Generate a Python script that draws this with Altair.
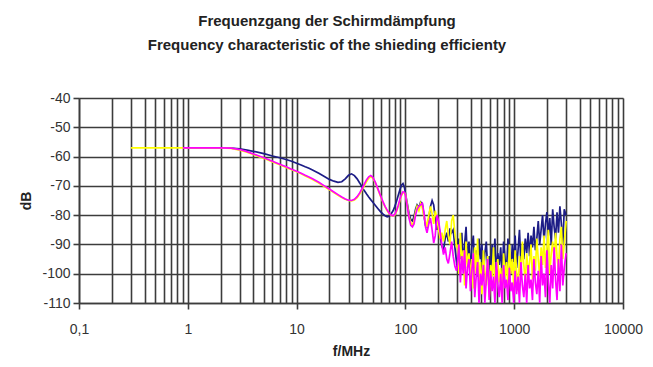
import altair as alt
import pandas as pd

# ---------------- data ----------------
freq_low = [0.3, 0.4, 0.5, 0.6, 0.7, 0.8, 0.9, 1.0, 1.2, 1.5,
            2.0, 2.5, 3.0, 3.5, 4.0, 5.0, 6.0, 7.0, 8.0, 9.0,
            10, 11, 12, 13, 14, 16, 18, 20, 22, 24,
            26, 28, 30, 32, 34, 36, 38, 40, 42, 44,
            46, 48, 50, 53, 56, 59, 62, 65, 68, 71,
            74, 77, 80, 83, 86, 89, 92, 95, 98]
freq_mid = [100, 104, 108, 112, 116, 120, 124, 128, 133, 138,
            143, 148, 153, 158, 164, 170, 176, 182, 188, 195,
            202, 209, 216, 224, 232, 240, 248, 257, 266, 275,
            285, 295]
freq_high = [300, 310, 320, 330, 340, 350, 361, 372, 384, 396,
             408, 421, 434, 447, 461, 475, 490, 505, 521, 537,
             554, 571, 589, 607, 626, 645, 665, 686, 707, 729,
             752, 775, 799, 824, 850, 876, 903, 931, 960, 990,
             1020, 1052, 1085, 1118, 1153, 1189, 1226, 1264, 1303, 1343,
             1385, 1428, 1472, 1518, 1565, 1614, 1664, 1715, 1768, 1823,
             1880, 1938, 1998, 2060, 2124, 2190, 2258, 2328, 2400, 2475,
             2552, 2631, 2713, 2797, 2884, 3000]

blue_low = [None, None, None, None, None, None, -57, -57, -57, -57,
            -57, -57.1, -57.4, -57.8, -58.2, -59.0, -59.8, -60.4, -61.0, -61.6,
            -62.3, -62.9, -63.5, -64.0, -64.6, -65.7, -66.8, -67.8, -68.4, -68.8,
            -68.6, -67.6, -66.4, -65.9, -66.5, -67.6, -69.0, -70.4, -71.7, -72.8,
            -73.8, -74.7, -75.5, -76.7, -77.8, -78.8, -79.6, -80.2, -80.6, -80.4,
            -79.5, -78.5, -77.0, -75.2, -73.2, -71.3, -69.8, -69.2, -70.5]
blue_mid = [-72.5, -76, -79.5, -81.5, -82, -80.5, -78, -76.5, -77.5, -75.5,
            -76, -80, -83.5, -84, -81, -77, -75, -76.5, -81, -85,
            -83, -87.5, -90.5, -92, -88, -86, -89, -84.5, -86, -85,
            -91, -96]
blue_high = [-99, -88, -95, -86, -97, -90, -84, -96, -89, -100,
             -91, -87, -98, -92, -101, -88, -95, -90, -102, -93,
             -89, -99, -94, -103, -90, -96, -88, -100, -93, -97,
             -91, -101, -89, -95, -99, -88, -94, -100, -90, -96,
             -87, -98, -92, -85, -97, -90, -95, -88, -93, -86,
             -94, -87, -91, -84, -92, -88, -82, -90, -85, -80,
             -89, -83, -79, -87, -81, -90, -78, -84, -88, -79,
             -86, -77, -83, -90, -78, -80]

yellow_low = [-57, -57, -57, -57, -57, -57, -57, -57, -57, -57,
              -57, -57.2, -57.8, -58.5, -59.3, -60.6, -61.8, -62.8, -63.7, -64.5,
              -65.2, -65.9, -66.6, -67.2, -67.8, -69.0, -70.2, -71.3, -72.3, -73.2,
              -74.0, -74.6, -75.0, -75.1, -74.8, -74.0, -72.8, -71.4, -69.9, -68.5,
              -67.4, -66.9, -67.3, -69.0, -71.3, -73.5, -75.5, -77.2, -78.5, -79.5,
              -80.1, -80.3, -79.9, -78.7, -77.0, -75.0, -73.3, -72.3, -72.4]
yellow_mid = [-72.8, -76.5, -80.5, -82.5, -83.5, -82, -79, -77, -78.5, -76,
              -77.5, -80.5, -82, -84, -80, -77, -79.5, -83, -78.5, -81,
              -85, -88, -86, -89, -85, -82, -87, -90, -82, -80,
              -86, -91]
yellow_high = [-90, -100, -86, -97, -92, -104, -89, -98, -93, -102,
               -95, -105, -91, -100, -88, -103, -96, -107, -92, -99,
               -104, -94, -108, -97, -101, -91, -106, -99, -95, -103,
               -98, -107, -93, -101, -96, -105, -90, -100, -95, -104,
               -92, -99, -106, -94, -101, -89, -97, -103, -93, -100,
               -96, -90, -102, -94, -99, -88, -95, -101, -91, -97,
               -87, -98, -92, -85, -100, -93, -89, -96, -86, -94,
               -99, -88, -84, -95, -90, -82]

magenta_low = [None, None, None, None, None, None, -57, -57, -57, -57,
               -57, -57.1, -57.6, -58.3, -59.1, -60.4, -61.6, -62.6, -63.5, -64.3,
               -65.0, -65.7, -66.4, -67.0, -67.6, -68.8, -70.0, -71.1, -72.1, -73.0,
               -73.8, -74.5, -74.9, -75.0, -74.6, -73.7, -72.4, -70.9, -69.3, -67.9,
               -66.9, -66.5, -67.0, -68.8, -71.1, -73.3, -75.3, -77.0, -78.3, -79.3,
               -80.0, -80.2, -79.7, -78.4, -76.6, -74.6, -73.0, -72.0, -72.2]
magenta_mid = [-73, -77, -81, -83.5, -84, -83, -80, -78, -77, -76.5,
               -76, -79, -84, -86, -83, -81, -85, -89.5, -87, -80,
               -82, -86, -90, -93.5, -91, -95, -96.5, -93, -89, -94,
               -97.5, -99]
magenta_high = [-97, -90, -103, -94, -100, -92, -105, -98, -95, -106,
                -99, -93, -108, -101, -96, -110, -100, -104, -97, -110,
                -102, -95, -109, -99, -106, -101, -110, -96, -104, -108,
                -100, -110, -97, -105, -102, -109, -98, -106, -103, -110,
                -99, -107, -101, -110, -96, -104, -108, -100, -110, -97,
                -105, -102, -109, -95, -103, -107, -99, -110, -94, -104,
                -100, -108, -92, -103, -110, -97, -105, -91, -102, -109,
                -95, -106, -90, -104, -98, -93]

freq = freq_low + freq_mid + freq_high
series = [
    ("blue", blue_low + blue_mid + blue_high, "#1c1c86"),
    ("yellow", yellow_low + yellow_mid + yellow_high, "#ffff00"),
    ("magenta", magenta_low + magenta_mid + magenta_high, "#ff00ff"),
]

y_ticks = [-110, -100, -90, -80, -70, -60, -50, -40]
x_grid = [round(m * 10.0 ** e, 6) for e in range(-1, 4) for m in range(1, 10)] + [10000]

x_scale = alt.Scale(type="log", domain=[0.1, 10000], nice=False)
y_scale = alt.Scale(domain=[-110, -40], nice=False, zero=False)

decade_test = "indexof([0.1, 1, 10, 100, 1000, 10000], datum.value) >= 0"
line_col = "#3c3c3c"

x_axis = alt.Axis(
    values=x_grid,
    title="f/MHz",
    titleFont="Liberation Sans", titleFontSize=14, titleFontWeight="bold",
    titleColor="#222", titlePadding=8,
    labelExpr="datum.value == 0.1 ? '0,1' : (indexof([1, 10, 100, 1000, 10000], datum.value) >= 0 ? toString(datum.value) : '')",
    labelFont="Liberation Sans", labelFontSize=14, labelColor="#333",
    labelPadding=13, labelOverlap=False, labelFlush=False,
    grid=True, gridColor=line_col, gridWidth=1.6, gridOpacity=1,
    domainColor=line_col, domainWidth=1.6,
    tickColor=line_col, tickWidth=1.6, tickSize=6,
    tickOpacity={"condition": {"test": decade_test, "value": 1}, "value": 0},
)
y_axis = alt.Axis(
    values=y_ticks,
    title="dB",
    titleFont="Liberation Sans", titleFontSize=14, titleFontWeight="bold",
    titleColor="#222", titlePadding=8,
    labelExpr="toString(datum.value)",
    labelFont="Liberation Sans", labelFontSize=14, labelColor="#333",
    labelPadding=3,
    grid=True, gridColor=line_col, gridWidth=1.6, gridOpacity=1,
    domainColor=line_col, domainWidth=1.6,
    tickColor=line_col, tickWidth=1.6, tickSize=6,
)

layers = []
for name, vals, color in series:
    df = pd.DataFrame({"f": freq, "dB": vals}).dropna()
    layers.append(
        alt.Chart(df).mark_line(color=color, strokeWidth=1.7, clip=True)
        .encode(
            x=alt.X("f:Q", scale=x_scale, axis=x_axis),
            y=alt.Y("dB:Q", scale=y_scale, axis=y_axis),
            order="f:Q",
        )
    )

chart = alt.layer(*layers).properties(
    width=544,
    height=205,
    padding={"left": 71, "top": 90, "right": 22, "bottom": 60},
    autosize=alt.AutoSizeParams(type="none"),
    title=alt.TitleParams(
        text=["Frequenzgang der Schirmdämpfung",
              "Frequency characteristic of the shieding efficienty"],
        font="Liberation Sans", fontSize=15, fontWeight="bold", color="#222",
        anchor="middle", dx=-24, offset=38, lineHeight=24,
    ),
).configure_view(stroke=None).configure(background="white")

chart.save("out.html", embed_options={"renderer": "svg", "actions": False})
